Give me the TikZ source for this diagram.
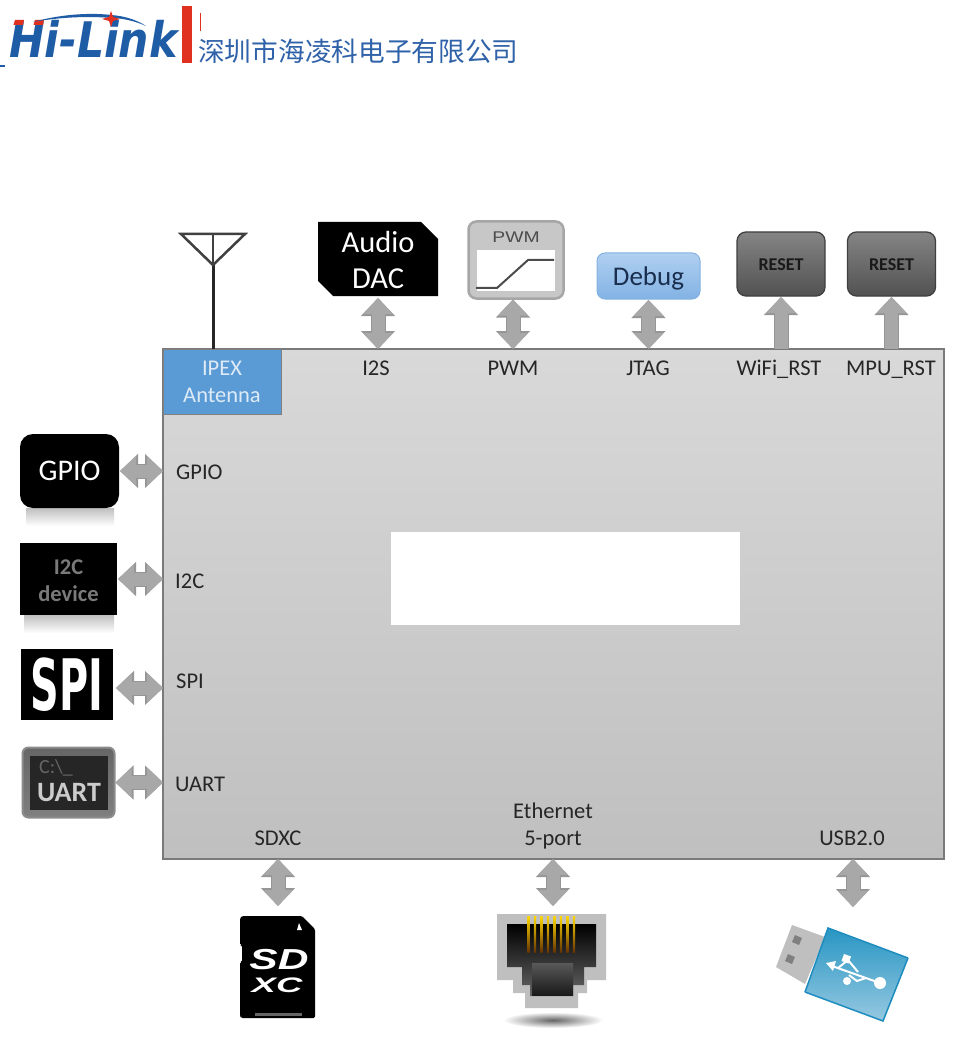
\documentclass[tikz,border=0pt]{standalone}
\usepackage{fontspec}
\setmainfont{Carlito}
\newfontfamily\cjk{Noto Sans CJK SC}
\newfontfamily\arialf{Liberation Sans}
\newfontfamily\dejavuf{DejaVu Sans}
\usetikzlibrary{arrows.meta,shapes.geometric}
\newcommand\fsz[2]{\fontsize{#1}{#2}\selectfont}
\definecolor{arrowgray}{HTML}{A8A8A8}
\definecolor{arrowedge}{HTML}{969696}
\definecolor{logoblue}{HTML}{1F5CA6}
\definecolor{logored}{HTML}{E03020}
\definecolor{chinablue}{HTML}{2F62A8}
\definecolor{labeltext}{HTML}{262626}
\definecolor{ipexblue}{HTML}{5B9BD5}
\definecolor{ipextext}{HTML}{DEEBF7}
\definecolor{dbgedge}{HTML}{84B2E2}
\definecolor{dbgtop}{HTML}{B0D0F0}
\definecolor{dbgbot}{HTML}{82B2E4}
\definecolor{dbgtext}{HTML}{1A2E4E}
\definecolor{usbtop}{HTML}{2896C3}
\definecolor{usbbot}{HTML}{96C8E1}
\definecolor{usbedge}{HTML}{1E8CBE}
\tikzset{
  x=1pt,y=-1pt,
  bi/.style={{Triangle[length=16pt,width=29pt]}-{Triangle[length=16pt,width=29pt]},line width=13pt,color=arrowgray,
    preaction={draw=arrowedge,line width=15pt,{Triangle[length=18pt,width=33pt]}-{Triangle[length=18pt,width=33pt]}}},
  uni/.style={-{Triangle[length=16pt,width=29pt]},line width=13pt,color=arrowgray,
    preaction={draw=arrowedge,line width=15pt,-{Triangle[length=18pt,width=33pt]}}},
  lbl/.style={font=\fsz{22.5}{27},text=labeltext,inner sep=0pt,align=center},
  one/.style={lbl,align=none,text height=18pt,text depth=3.5pt},
  llbl/.style={one,anchor=west},
  box/.style={inner sep=0pt,outer sep=1pt},
  resetbox/.style={box,draw=black!75,line width=1.3pt,rounded corners=9pt,top color=black!48,bottom color=black!68,
     minimum width=88pt,minimum height=64pt,text=black!90,font=\bfseries\fsz{18}{18},text height=14pt,text depth=0pt},
  fade/.style={top color=black!25,bottom color=white,draw=none}
}
\begin{document}
\begin{tikzpicture}
\useasboundingbox (0,0) rectangle (965,1040);
\fill[white] (0,0) rectangle (965,1040);

% ---- header logo
\node[anchor=base west,inner sep=0pt,text=logoblue,font=\dejavuf\bfseries\itshape\fsz{49}{49}] (logo) at (9,58) {\scalebox{.87}[1]{Hi-Link}};
\fill[logored] (15,20) -- (24,20) -- (23,25) -- (13.5,25) -- cycle;
\fill[logored] (35,20) -- (44,20) -- (43,25) -- (33.5,25) -- cycle;
\fill[logoblue] (33,22) .. controls (65,13) and (95,13) .. (111,15) .. controls (125,16) and (137,20) .. (146,26) .. controls (135,21) and (122,18) .. (111,18) .. controls (90,16) and (60,17) .. (33,22) -- cycle;
\fill[logored] (111,11) -- (113,17) -- (120,19) -- (113,21) -- (111,27) -- (109,21) -- (102,19) -- (109,17) -- cycle;
\fill[logored] (182,6) rectangle (192,63);
\draw[logored,line width=.8pt] (200.5,13) -- (200.5,31);
\node[anchor=west,inner sep=0pt,text=chinablue,font=\cjk\fsz{26.7}{28}] (cn) at (198,51) {深圳市海凌科电子有限公司};
\draw[logoblue,line width=2pt] (0,66) -- (5,66);

% ---- main chip
\node[box,outer sep=0pt,draw=black!52,line width=2pt,top color=black!15,bottom color=black!25,minimum width=781pt,minimum height=510pt] (chip) at (553.5,604) {};
\node[box,outer sep=0pt,fill=white,minimum width=349pt,minimum height=93pt] (blank) at (565.5,578.5) {};
\node[box,outer sep=0pt,draw=black!50,line width=1pt,fill=ipexblue,minimum width=118pt,minimum height=65pt,
  text=ipextext,font=\fsz{22.5}{27},align=center] (ipex) at (222,381.5) {IPEX\\Antenna};

% ---- chip labels
\node[one] (lI2S) at (376,368.5) {I2S};
\node[one] (lPWM) at (513,368.5) {PWM};
\node[one] (lJTAG) at (648,368.5) {JTAG};
\node[one] (lWiFi) at (779,368.5) {WiFi\_RST};
\node[one] (lMPU) at (891,368.5) {MPU\_RST};
\node[llbl] (lGPIO) at (176,472) {GPIO};
\node[llbl] (lI2C) at (175,581.5) {I2C};
\node[llbl] (lSPI) at (176,681) {SPI};
\node[llbl] (lUART) at (175,784.5) {UART};
\node[one] (lSDXC) at (278,838.5) {SDXC};
\node[lbl] (lEth) at (553,826) {Ethernet\\5-port};
\node[one] (lUSB) at (852,838.5) {USB2.0};

% ---- antenna
\coordinate (antTip) at (213,265);
\draw[black!85,line width=3pt] (ipex.north -| antTip) -- (antTip);
\draw[black!75,line width=2.5pt,line join=miter] (181,234) -- (245,234) -- (antTip) -- cycle;
\draw[black!75,line width=1.6pt] (antTip) -- (213,234);

% ---- Audio DAC
\fill[black] (318,222) -- (421,222) -- (438,239) -- (438,296) -- (333,296) -- (318,281) -- cycle;
\node[box,minimum width=120pt,minimum height=74pt,text=white,font=\fsz{30.5}{36},align=center] (dac) at (378,260) {Audio\\DAC};

% ---- PWM block
\node[box,draw=black!35,line width=2.5pt,rounded corners=8pt,fill=black!22,minimum width=95pt,minimum height=77pt] (pwm) at (516,260) {};
\fill[white] (477,250) rectangle (555,291);
\draw[black!70,line width=2pt] (476,288) -- (497,288) -- (528,260) -- (554,260);
\node[inner sep=0pt,text=black!70,font=\arialf\fsz{15.5}{16}] (pwmT) at (516,237) {\scalebox{1.25}[1]{PWM}};

% ---- Debug
\node[box,draw=dbgedge,line width=1pt,rounded corners=8pt,top color=dbgtop,bottom color=dbgbot,
  minimum width=103pt,minimum height=46pt,text=dbgtext,font=\fsz{27}{28},text height=20pt,text depth=0pt] (debug) at (648.5,276) {Debug};

% ---- Reset blocks
\node[resetbox] (rst1) at (781,264) {RESET};
\node[resetbox] (rst2) at (891.5,264) {RESET};

% ---- left devices
\fill[fade] (26,508) rectangle (114,526);
\node[box,fill=black,rounded corners=13pt,minimum width=99pt,minimum height=74pt,text=white,font=\fsz{30}{30},text height=18pt,text depth=0pt] (gpio) at (69.5,471) {GPIO};
\fill[fade] (24,615) rectangle (114,633);
\node[box,fill=black,minimum width=97pt,minimum height=72pt] (i2c) at (68.5,579) {};
\node[inner sep=0pt,text=black!52,font=\bfseries\fsz{22.5}{27},align=center] (i2cT) at (68.5,581) {I2C\\device};
\node[box,fill=black,minimum width=92pt,minimum height=71pt,text=white,font=\dejavuf\bfseries\fsz{71}{71}] (spi) at (67,684.5) {\scalebox{.56}[1]{SPI}};
\node[box,draw=black!45,line width=2pt,rounded corners=6pt,top color=black!60,bottom color=black!50,minimum width=92pt,minimum height=70pt] (uart) at (68.5,782.5) {};
\fill[black!85] (30,756) rectangle (108,810);
\node[inner sep=0pt,text=black!60,font=\fsz{20}{20}] (uartC) at (56,768) {C:\textbackslash\_};
\node[inner sep=0pt,text=black!20,font=\bfseries\fsz{28}{28}] (uartT) at (69,793) {UART};

% ---- SD card
\node[box,minimum width=75pt,minimum height=102pt] (sd) at (278,967) {};
\fill[black,rounded corners=1.5pt] (240,918) -- (242,916) -- (302,916) -- (315,929) -- (315,1018) -- (241,1018) -- (240,1016) -- (240,962) -- (242,962) -- (242,945) -- (240,945) -- cycle;
\fill[white] (299,923) -- (302,930) -- (297,930) -- cycle;
\fill[black!60] (255,1013) rectangle (302,1015.5);
\node[inner sep=0pt,text=white,font=\arialf\bfseries\itshape\fsz{34}{34}] (sdT) at (279,960) {\scalebox{1.25}[.85]{SD}};
\node[inner sep=0pt,text=white,font=\arialf\bfseries\itshape\fsz{28}{28}] (xcT) at (277,985) {\scalebox{1.3}[.75]{XC}};

% ---- Ethernet jack
\shade[shading=radial,inner color=black!60,outer color=white] (553,1020) ellipse [x radius=50,y radius=8];
\node[box,minimum width=109pt,minimum height=94pt] (eth) at (553,961) {};
\fill[black!25] (497,914) -- (606,914) -- (606,980) -- (587,980) -- (587,993) -- (578,993) -- (578,1008) -- (525,1008) -- (525,993) -- (513,993) -- (513,980) -- (497,980) -- cycle;
\shade[top color=black,bottom color=black!60] (507,924) -- (596,924) -- (596,967) -- (584,967) -- (584,985) -- (573,985) -- (573,996) -- (530,996) -- (530,985) -- (522,985) -- (522,967) -- (507,967) -- cycle;
\shade[top color=black!65,bottom color=black!90] (532,963) rectangle (573,995);
\foreach \px in {528.5,535,541.5,548,554.5,561,567.5,574}{
  \shade[top color=yellow!70!orange,middle color=orange!80!black,bottom color=orange!40!black] (\px-1.2,916) rectangle (\px+1.2,952);
}

% ---- USB stick
\coordinate (usbTop) at (853,915);
\fill[black!25] (792,925) -- (825,937) -- (805,984) -- (776,967) -- cycle;
\fill[black!50] (795,935) -- (802,938) -- (799,945) -- (792,942) -- cycle;
\fill[black!50] (788,954) -- (795,957) -- (792,964) -- (785,961) -- cycle;
\shade[top color=usbtop,bottom color=usbbot] (828,928) -- (908,958) -- (883,1021) -- (805,992) -- cycle;
\draw[usbedge,line width=1.5pt] (805,992) -- (828,928) -- (908,958);
\draw[usbedge,line width=1.5pt] (805,992) -- (883,1021) -- (908,958);
\draw[white,line width=2pt] (832,966) -- (880,983);
\draw[white,line width=2pt] (838,968) -- (848,960) -- (858,972);
\draw[white,line width=2pt] (849,975) -- (857,981) -- (866,978);
\fill[white] (826,963) -- (836,961) -- (833,971) -- cycle;
\fill[white] (880,983) circle [radius=6];
\fill[white] (847,981) circle [radius=4];
\fill[white] (844,954) -- (851,956.5) -- (848.5,963.5) -- (841.5,961) -- cycle;

% ---- connectors
\draw[bi] (dac.south) -- (dac.south |- chip.north);
\draw[bi] ([xshift=-3pt]pwm.south) -- ([xshift=-3pt]pwm.south |- chip.north);
\draw[bi] (debug.south) -- (debug.south |- chip.north);
\draw[uni] (rst1.south |- chip.north) -- (rst1.south);
\draw[uni] (rst2.south |- chip.north) -- (rst2.south);
\draw[bi] (gpio.east) -- (gpio.east -| chip.west);
\draw[bi] (i2c.east) -- (i2c.east -| chip.west);
\draw[bi] ([xshift=2pt,yshift=-3.5pt]spi.east) -- ([yshift=-3.5pt]spi.east -| chip.west);
\draw[bi] (uart.east) -- (uart.east -| chip.west);
\draw[bi] (sd.north |- chip.south) -- ([yshift=9pt]sd.north);
\draw[bi] (eth.north |- chip.south) -- ([yshift=7pt]eth.north);
\draw[bi] (usbTop |- chip.south) -- ([yshift=8pt]usbTop);
\end{tikzpicture}
\end{document}
